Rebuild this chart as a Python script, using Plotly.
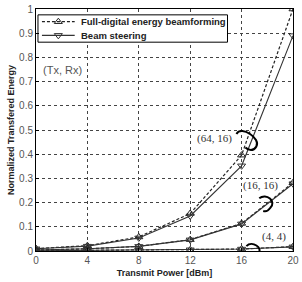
import plotly.graph_objects as go

power = [0, 4, 8, 12, 16, 20]
# (64,16)
fd_64_16 = [0.010, 0.022, 0.058, 0.155, 0.396, 1.000]
bs_64_16 = [0.009, 0.020, 0.054, 0.145, 0.352, 0.890]
# (16,16)
fd_16_16 = [0.004, 0.009, 0.019, 0.047, 0.114, 0.282]
bs_16_16 = [0.004, 0.009, 0.019, 0.046, 0.112, 0.278]
# (4,4)
fd_4_4 = [0.001, 0.002, 0.003, 0.005, 0.008, 0.018]
bs_4_4 = [0.001, 0.002, 0.003, 0.005, 0.008, 0.017]

legend_names = ["Full-digital energy beamforming", "Beam steering"]
y_ticks = [0, 0.1, 0.2, 0.3, 0.4, 0.5, 0.6, 0.7, 0.8, 0.9, 1]
y_ticktext = ["0", "0.1", "0.2", "0.3", "0.4", "0.5", "0.6", "0.7", "0.8", "0.9", "1"]

W, H = 302, 282
ML, MR, MT, MB = 36, 7, 3, 31
XR = [0, 20]
YR = [0, 1]

def px2d(px, py):
    pw = W - ML - MR
    ph = H - MT - MB
    x = XR[0] + (px - ML) / pw * (XR[1] - XR[0])
    y = YR[0] + (H - MB - py) / ph * (YR[1] - YR[0])
    return x, y

fig = go.Figure()
LC = "#222222"
fd_line = dict(color=LC, width=1.2, dash="3px,2px")
bs_line = dict(color="#333333", width=1.1)
fd_marker = dict(symbol="triangle-up-open", size=7, color=LC, line=dict(width=1))
bs_marker = dict(symbol="triangle-down-open", size=7, color="#333333", line=dict(width=1))

for fd, bs in [(fd_64_16, bs_64_16), (fd_16_16, bs_16_16), (fd_4_4, bs_4_4)]:
    fig.add_trace(go.Scatter(x=power, y=fd, mode="lines+markers", line=fd_line,
                             marker=fd_marker, showlegend=False))
    fig.add_trace(go.Scatter(x=power, y=bs, mode="lines+markers", line=bs_line,
                             marker=bs_marker, showlegend=False))

# ---- manual legend ----
bx0, by0 = px2d(38, 9)
bx1, by1 = px2d(229, 37)
fig.add_shape(type="rect", xref="x", yref="y", x0=bx0, y0=by0, x1=bx1, y1=by1,
              line=dict(color="black", width=1), fillcolor="white", layer="between")
for i, (name, ln, mk) in enumerate([(legend_names[0], fd_line, fd_marker),
                                    (legend_names[1], bs_line, bs_marker)]):
    yy = 16 + 14 * i
    lx0, ly = px2d(42, yy)
    lx1, _ = px2d(75, yy)
    mx, _ = px2d(58.5, yy)
    tx, _ = px2d(79, yy)
    fig.add_trace(go.Scatter(x=[lx0, lx1], y=[ly, ly], mode="lines", line=ln,
                             showlegend=False, hoverinfo="skip"))
    fig.add_trace(go.Scatter(x=[mx], y=[ly], mode="markers", marker=mk,
                             showlegend=False, hoverinfo="skip"))
    fig.add_annotation(x=tx, y=ly, xref="x", yref="y", text=f"<b>{name}</b>",
                       showarrow=False, xanchor="left", yanchor="middle",
                       font=dict(family="Liberation Sans", size=9.5, color="#222222"))

def hook(start, seg1, seg2):
    s = px2d(*start)
    a = [px2d(*p) for p in seg1]
    b = [px2d(*p) for p in seg2]
    path = f"M {s[0]},{s[1]} C {a[0][0]},{a[0][1]} {a[1][0]},{a[1][1]} {a[2][0]},{a[2][1]}"
    path += f" C {b[0][0]},{b[0][1]} {b[1][0]},{b[1][1]} {b[2][0]},{b[2][1]}"
    return path

hooks = [
    ((238, 131), [(243, 122), (263, 136), (258, 144)], [(255, 149), (250, 148), (247, 145)]),
    ((261, 197), [(268, 191), (279, 200), (272, 207)], [(270, 210), (268, 211), (265, 210)]),
    ((248, 246), [(254, 240), (265, 248), (260, 253)], [(258, 256), (256, 256), (253, 255)]),
]
for st, s1, s2 in hooks:
    fig.add_shape(type="path", path=hook(st, s1, s2), xref="x", yref="y",
                  line=dict(color="black", width=2))

labels = [("(64, 16)", (216, 136)), ("(16, 16)", (262, 184)), ("(4, 4)", (276, 236))]
for t, (px, py) in labels:
    x, y = px2d(px, py)
    fig.add_annotation(x=x, y=y, text=t, showarrow=False, xref="x", yref="y",
                       font=dict(family="Liberation Serif", size=11, color="#333333"))
x, y = px2d(62.5, 65)
fig.add_annotation(x=x, y=y, text="(Tx, Rx)", showarrow=False, xref="x", yref="y",
                   font=dict(family="Liberation Sans", size=11, color="#555555"))

axis_common = dict(showgrid=True, gridcolor="#444444", griddash="dot", gridwidth=1,
                   showline=True, linecolor="black", linewidth=1, mirror=True,
                   ticks="inside", ticklen=3, tickcolor="black", zeroline=False,
                   ticklabeloverflow="allow",
                   tickfont=dict(family="Liberation Sans", size=10, color="#555555"))

fig.update_layout(
    width=W, height=H,
    margin=dict(l=ML, r=MR, t=MT, b=MB),
    paper_bgcolor="white", plot_bgcolor="white",
    showlegend=False,
    xaxis=dict(range=XR, tickvals=power, **axis_common,
               title=dict(text="<b>Transmit Power [dBm]</b>", standoff=4,
                          font=dict(family="Liberation Sans", size=9, color="#222222"))),
    yaxis=dict(range=YR, tickvals=y_ticks, ticktext=y_ticktext, **axis_common,
               title=dict(text="<b>Normalized Transfered Energy</b>", standoff=2,
                          font=dict(family="Liberation Sans", size=9, color="#222222"))),
)

fig.write_html("out.html")
